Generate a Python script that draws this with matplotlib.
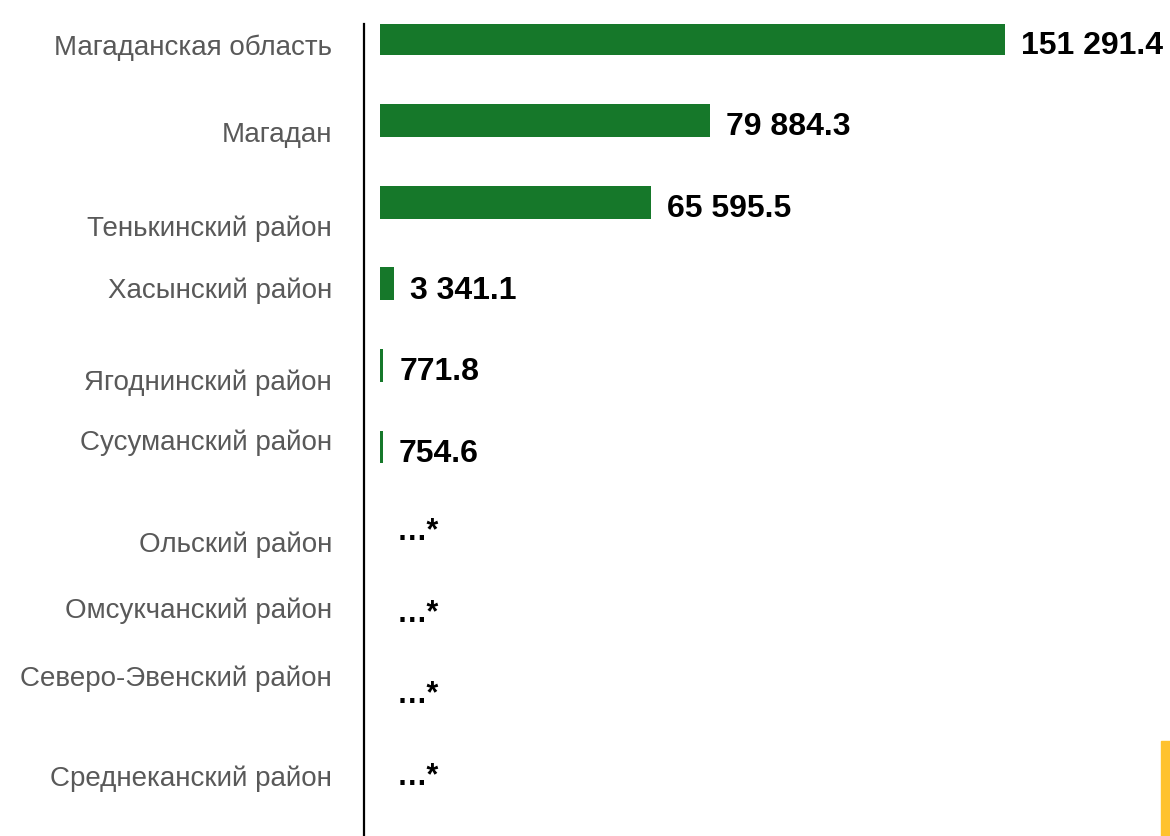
import matplotlib.pyplot as plt
from matplotlib.patches import Rectangle

# data
districts = ["Магаданская область", "Магадан", "Тенькинский район", "Хасынский район",
             "Ягоднинский район", "Сусуманский район", "Ольский район",
             "Омсукчанский район", "Северо-Эвенский район", "Среднеканский район"]
values = [151291.4, 79884.3, 65595.5, 3341.1, 771.8, 754.6, None, None, None, None]

# label vertical placement (pixels from top), labels don't sit exactly on bars
label_py = [48, 135, 229, 291, 383, 443, 545, 611, 679, 779]

plt.rcParams['font.family'] = ['Liberation Sans', 'DejaVu Sans']

W, H = 1170, 837
fig = plt.figure(figsize=(W / 100, H / 100), dpi=100)
ax_left, ax_top, ax_bottom = 364, 25, 837
ax = fig.add_axes([ax_left / W, 0, (W - ax_left) / W, (ax_bottom - ax_top) / H])

step = 81.6
first = 40
green = "#16782A"

pos = list(range(len(districts)))
bar_vals = [v if v is not None else 0 for v in values]
ax.barh(pos, bar_vals, height=0.4, color=green, left=0)

px_per_unit = 625 / 151291.4
ax.set_xlim(-16 / px_per_unit, (W - ax_left - 16) / px_per_unit)
ax.set_ylim((ax_bottom - first) / step, -(first - ax_top) / step)

pad = 16 / px_per_unit
for i, v in enumerate(values):
    if v is None:
        ax.text(pad + 1 / px_per_unit, i + 0.03, "…*", va="center", ha="left",
                fontsize=22, fontweight="bold", color="black")
    else:
        ax.text(v + pad, i + 0.07, f"{v:,.1f}".replace(",", " "), va="center", ha="left",
                fontsize=23, fontweight="bold", color="black")

for name, py in zip(districts, label_py):
    fig.text(332 / W, 1 - py / H, name, ha="right", va="center",
             fontsize=20, color="#595959")

for s in ["top", "right", "bottom"]:
    ax.spines[s].set_visible(False)
ax.spines["left"].set_linewidth(1.6)
ax.spines["left"].set_color("black")
ax.set_xticks([])
ax.set_yticks([])

# yellow marker at bottom right
fig.patches.append(Rectangle((1161 / W, 0), 9 / W, 95 / H, transform=fig.transFigure,
                             color="#FFC22E", zorder=5))

fig.savefig("out.png", dpi=100)
